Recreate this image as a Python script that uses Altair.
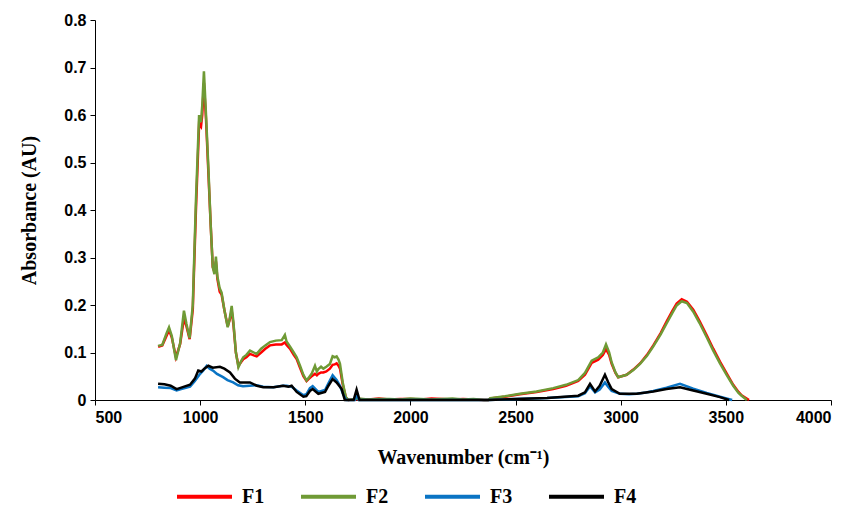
import altair as alt
import pandas as pd

# ---- data ----
f1_wn = [800, 820, 840, 852, 865, 885, 905, 923, 935, 950, 965, 980, 995, 1004, 1010, 1018, 1028, 1039,
         1050, 1060, 1068, 1075, 1082, 1093, 1102, 1115, 1131, 1140, 1150, 1158, 1170, 1182, 1195, 1205,
         1220, 1237, 1255, 1269, 1290, 1310, 1332, 1360, 1388, 1403, 1411, 1427, 1445, 1459, 1475, 1491,
         1506, 1518, 1530, 1546, 1555, 1562, 1575, 1586, 1600, 1617, 1630, 1640, 1649, 1658, 1665, 1678,
         1693, 1705, 1750, 1800, 1850, 1900, 1950, 2000, 2050, 2100, 2150, 2200, 2250, 2300, 2350, 2370,
         2380, 2450, 2521, 2600, 2679, 2740, 2798, 2830, 2862, 2893, 2915, 2930, 2945, 2957, 2975, 2988,
         3028, 3060, 3092, 3125, 3155, 3190, 3218, 3245, 3266, 3290, 3315, 3345, 3375, 3409, 3440, 3472,
         3505, 3535, 3560, 3575, 3610]
f1_val = [0.112, 0.115, 0.135, 0.147, 0.132, 0.090, 0.118, 0.172, 0.155, 0.128, 0.19, 0.40, 0.580, 0.575,
          0.60, 0.668, 0.59, 0.48, 0.37, 0.28, 0.27, 0.292, 0.255, 0.228, 0.222, 0.19, 0.155, 0.168, 0.188,
          0.160, 0.10, 0.072, 0.080, 0.086, 0.090, 0.097, 0.094, 0.092, 0.100, 0.108, 0.115, 0.117, 0.117,
          0.121, 0.116, 0.108, 0.095, 0.086, 0.068, 0.050, 0.040, 0.045, 0.050, 0.055, 0.052, 0.055, 0.058,
          0.058, 0.060, 0.066, 0.074, 0.075, 0.077, 0.072, 0.066, 0.033, 0.005, 0.0, 0.002, 0.001, 0.003,
          0.001, 0.002, 0.002, 0.001, 0.003, 0.002, 0.001, 0.002, 0.001, 0.0, 0.0,
          0.003, 0.007, 0.012, 0.017, 0.023, 0.030, 0.040, 0.053, 0.078, 0.085, 0.095, 0.107, 0.095, 0.076,
          0.057, 0.048, 0.053, 0.064, 0.077, 0.095, 0.115, 0.141, 0.165, 0.187, 0.203, 0.212, 0.207, 0.190,
          0.166, 0.136, 0.108, 0.081, 0.055, 0.032, 0.017, 0.010, 0.0]

f2_wn = [800, 820, 840, 852, 865, 885, 905, 923, 935, 950, 965, 980, 995, 1004, 1010, 1018, 1028, 1039,
         1050, 1060, 1068, 1075, 1082, 1093, 1102, 1115, 1131, 1140, 1150, 1158, 1170, 1182, 1195, 1205,
         1220, 1237, 1255, 1269, 1290, 1310, 1332, 1360, 1388, 1403, 1411, 1427, 1445, 1459, 1475, 1491,
         1506, 1518, 1530, 1546, 1555, 1562, 1575, 1586, 1600, 1617, 1630, 1640, 1649, 1658, 1665, 1678,
         1693, 1705, 1750, 1800, 1850, 1900, 1950, 2000, 2050, 2100, 2150, 2200, 2250, 2300, 2350, 2370,
         2380, 2450, 2521, 2600, 2679, 2740, 2798, 2830, 2862, 2893, 2915, 2930, 2945, 2957, 2975, 2988,
         3028, 3060, 3092, 3125, 3155, 3190, 3218, 3245, 3266, 3290, 3315, 3345, 3375, 3409, 3440, 3472,
         3505, 3535, 3560, 3575, 3600]
f2_val = [0.114, 0.116, 0.140, 0.153, 0.135, 0.084, 0.120, 0.188, 0.160, 0.130, 0.20, 0.42, 0.600, 0.585,
          0.62, 0.692, 0.60, 0.49, 0.37, 0.28, 0.265, 0.302, 0.26, 0.235, 0.226, 0.19, 0.153, 0.170, 0.198,
          0.165, 0.10, 0.069, 0.082, 0.090, 0.095, 0.104, 0.100, 0.097, 0.108, 0.115, 0.122, 0.125, 0.126,
          0.137, 0.123, 0.113, 0.100, 0.090, 0.072, 0.053, 0.041, 0.048, 0.055, 0.072, 0.060, 0.065, 0.070,
          0.066, 0.070, 0.076, 0.092, 0.090, 0.092, 0.085, 0.076, 0.037, 0.006, 0.0, 0.003, 0.001, 0.002,
          0.002, 0.001, 0.003, 0.002, 0.001, 0.002, 0.003, 0.001, 0.002, 0.0, 0.0,
          0.004, 0.008, 0.013, 0.018, 0.025, 0.032, 0.042, 0.057, 0.083, 0.090, 0.100, 0.117, 0.100, 0.079,
          0.058, 0.048, 0.053, 0.063, 0.076, 0.093, 0.113, 0.138, 0.161, 0.183, 0.199, 0.208, 0.204, 0.186,
          0.162, 0.132, 0.104, 0.077, 0.052, 0.030, 0.015, 0.009, 0.0]

f3_wn = [800, 830, 860, 888, 910, 952, 975, 1000, 1015, 1031, 1045, 1061, 1080, 1109, 1130, 1157, 1180,
         1204, 1235, 1269, 1300, 1347, 1394, 1411, 1435, 1459, 1491, 1505, 1522, 1535, 1562, 1594, 1610,
         1630, 1649, 1665, 1680, 1695, 1735, 1745, 1755, 2370, 2500, 2650, 2798, 2830, 2854, 2878, 2900,
         2925, 2940, 2957, 2996, 3040, 3076, 3120, 3155, 3218, 3282, 3345, 3409, 3472, 3530]
f3_val = [0.027, 0.026, 0.025, 0.020, 0.023, 0.028, 0.040, 0.055, 0.062, 0.072, 0.066, 0.062, 0.055, 0.048,
          0.042, 0.037, 0.031, 0.029, 0.030, 0.031, 0.028, 0.027, 0.030, 0.030, 0.028, 0.020, 0.010, 0.012,
          0.025, 0.029, 0.017, 0.021, 0.035, 0.052, 0.042, 0.030, 0.012, 0.0, 0.0, 0.012, 0.0, 0.0, 0.002,
          0.004, 0.008, 0.014, 0.029, 0.016, 0.022, 0.037, 0.028, 0.019, 0.013, 0.012, 0.013, 0.016, 0.019,
          0.026, 0.034, 0.024, 0.015, 0.007, 0.0]

f4_wn = [800, 830, 860, 888, 910, 952, 975, 991, 1006, 1020, 1039, 1060, 1094, 1115, 1142, 1165, 1189,
         1237, 1270, 1300, 1350, 1394, 1420, 1435, 1459, 1491, 1505, 1522, 1535, 1562, 1594, 1610, 1630,
         1649, 1673, 1688, 1730, 1744, 1758, 2370, 2500, 2650, 2798, 2830, 2854, 2878, 2900, 2925, 2940,
         2957, 2996, 3076, 3155, 3218, 3282, 3345, 3409, 3472, 3515]
f4_val = [0.034, 0.033, 0.030, 0.023, 0.026, 0.032, 0.045, 0.062, 0.060, 0.066, 0.072, 0.068, 0.070, 0.066,
          0.058, 0.045, 0.037, 0.037, 0.030, 0.027, 0.027, 0.030, 0.028, 0.030, 0.017, 0.007, 0.008, 0.019,
          0.023, 0.013, 0.017, 0.030, 0.044, 0.037, 0.023, 0.0, 0.0, 0.022, 0.0, 0.0, 0.002, 0.004, 0.009,
          0.016, 0.034, 0.018, 0.030, 0.053, 0.038, 0.023, 0.013, 0.013, 0.018, 0.023, 0.027, 0.020, 0.013,
          0.006, 0.0]

series_names = ["F1", "F2", "F3", "F4"]
series_colors = ["#FF0000", "#6F9A35", "#0A74C4", "#000000"]
x_ticks = [500, 1000, 1500, 2000, 2500, 3000, 3500, 4000]
y_ticks = [0, 0.1, 0.2, 0.3, 0.4, 0.5, 0.6, 0.7, 0.8]

frames = []
for name, wn, val in zip(series_names, [f1_wn, f2_wn, f3_wn, f4_wn], [f1_val, f2_val, f3_val, f4_val]):
    frames.append(pd.DataFrame({"wn": wn, "abs": val, "series": name}))
df = pd.concat(frames, ignore_index=True)

tick_font = "Liberation Sans Narrow, Arial Narrow, Liberation Sans, Arial"
title_font = "Liberation Serif, Times New Roman, serif"

chart = alt.Chart(df).mark_line(strokeWidth=2.5).encode(
    x=alt.X("wn:Q", scale=alt.Scale(domain=[500, 4000], nice=False),
            axis=alt.Axis(values=x_ticks, format="d", title="Wavenumber (cm⁻¹)",
                          titlePadding=22)),
    y=alt.Y("abs:Q", scale=alt.Scale(domain=[0, 0.8], nice=False),
            axis=alt.Axis(values=y_ticks, format=".1~f", title="Absorbance (AU)",
                          titlePadding=24)),
    color=alt.Color("series:N", scale=alt.Scale(domain=series_names, range=series_colors),
                    legend=alt.Legend(title=None, orient="none", legendX=80, legendY=447,
                                      direction="horizontal", symbolType="stroke",
                                      symbolSize=3025, symbolStrokeWidth=4,
                                      labelFont=title_font, labelFontSize=20,
                                      labelFontWeight="bold", labelColor="#000000",
                                      labelOffset=8, columnPadding=28)),
    detail="series:N",
).properties(
    width=736, height=380,
    autosize=alt.AutoSizeParams(type="none"),
    padding={"left": 87, "top": 12, "right": 10, "bottom": 108},
).configure_view(stroke=None).configure_axis(
    grid=False, domainColor="#000000", tickColor="#000000", tickSize=5,
    labelFont=tick_font, labelFontSize=16, labelFontWeight="bold", labelColor="#000000",
    labelPadding=4,
    titleFont=title_font, titleFontSize=20, titleFontWeight="bold", titleColor="#000000",
)

chart.save("out.html", embed_options={"renderer": "svg", "actions": False})
